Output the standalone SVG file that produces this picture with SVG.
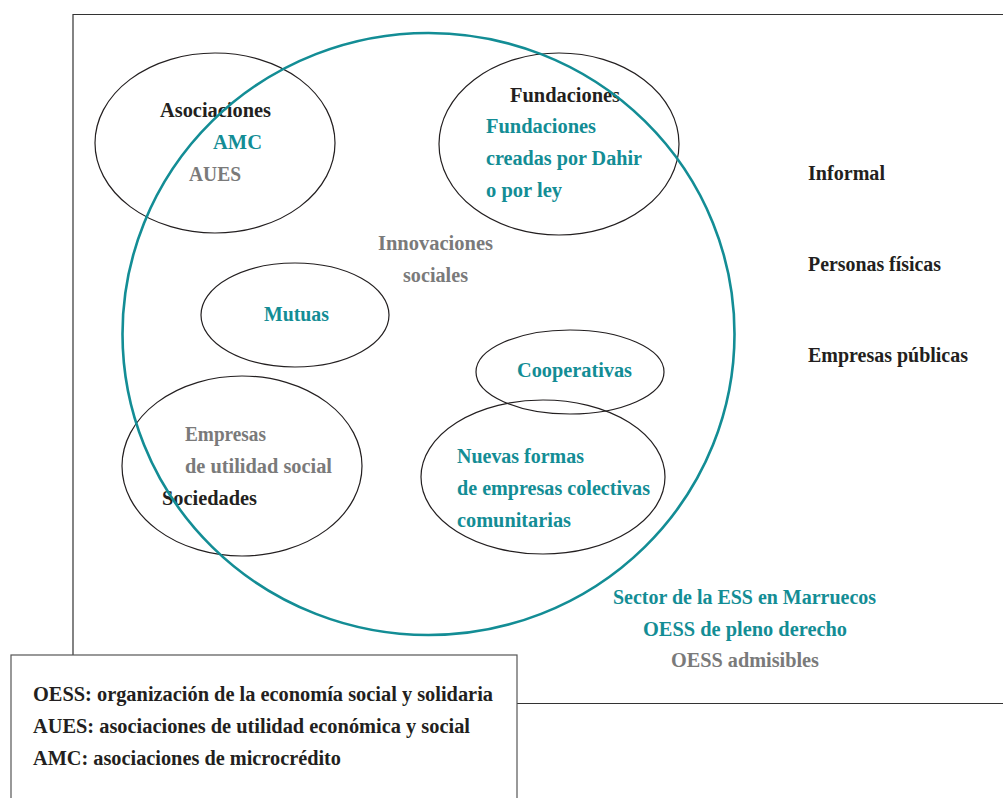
<svg xmlns="http://www.w3.org/2000/svg" width="1003" height="798" viewBox="0 0 1003 798">
<style>
text{font-family:"Liberation Serif","Times New Roman",serif;font-weight:bold;font-size:20px}
.k{fill:#231f20}
.t{fill:#138d95}
.g{fill:#7a7a7a}
.e{fill:none;stroke:#231f20;stroke-width:1.2}
.frame{fill:none;stroke:#333;stroke-width:1.2}
</style>
<rect width="1003" height="798" fill="#fff"/>
<g id="frame">
<path class="frame" d="M73,655 V14.5 H1004 M517,703.5 H1004"/>
</g>
<g id="connectors"></g>
<g id="asociaciones">
<ellipse class="e" cx="215" cy="143" rx="120" ry="90"/>
<text class="k" x="160" y="117" textLength="111" lengthAdjust="spacingAndGlyphs">Asociaciones</text>
<text class="t" x="213" y="149" textLength="49" lengthAdjust="spacingAndGlyphs">AMC</text>
<text class="g" x="189" y="181" textLength="52" lengthAdjust="spacingAndGlyphs">AUES</text>
</g>
<g id="fundaciones">
<ellipse class="e" cx="559" cy="144" rx="120" ry="91"/>
<text class="k" x="510" y="102" textLength="110" lengthAdjust="spacingAndGlyphs">Fundaciones</text>
<text class="t" x="486" y="133" textLength="110" lengthAdjust="spacingAndGlyphs">Fundaciones</text>
<text class="t" x="486" y="165" textLength="156" lengthAdjust="spacingAndGlyphs">creadas por Dahir</text>
<text class="t" x="486" y="197" textLength="76" lengthAdjust="spacingAndGlyphs">o por ley</text>
</g>
<g id="mutuas">
<ellipse class="e" cx="295" cy="315" rx="94" ry="52"/>
<text class="t" x="264" y="321" textLength="65" lengthAdjust="spacingAndGlyphs">Mutuas</text>
</g>
<g id="cooperativas">
<ellipse class="e" cx="570" cy="372" rx="94" ry="42"/>
<text class="t" x="517" y="377" textLength="115" lengthAdjust="spacingAndGlyphs">Cooperativas</text>
</g>
<g id="sociedades">
<ellipse class="e" cx="242" cy="466" rx="120" ry="90"/>
<text class="g" x="185" y="441" textLength="81" lengthAdjust="spacingAndGlyphs">Empresas</text>
<text class="g" x="185" y="473" textLength="147" lengthAdjust="spacingAndGlyphs">de utilidad social</text>
<text class="k" x="162" y="505" textLength="95" lengthAdjust="spacingAndGlyphs">Sociedades</text>
</g>
<g id="nuevas">
<ellipse class="e" cx="543" cy="477" rx="122" ry="77"/>
<text class="t" x="457" y="463" textLength="127" lengthAdjust="spacingAndGlyphs">Nuevas formas</text>
<text class="t" x="457" y="495" textLength="193" lengthAdjust="spacingAndGlyphs">de empresas colectivas</text>
<text class="t" x="457" y="527" textLength="114" lengthAdjust="spacingAndGlyphs">comunitarias</text>
</g>
<g id="sector">
<ellipse cx="428.5" cy="334" rx="306" ry="301" fill="none" stroke="#138d95" stroke-width="2.6"/>
<text class="g" x="378" y="250" textLength="115" lengthAdjust="spacingAndGlyphs">Innovaciones</text>
<text class="g" x="403" y="282" textLength="65" lengthAdjust="spacingAndGlyphs">sociales</text>
<text class="t" x="613" y="604" textLength="263" lengthAdjust="spacingAndGlyphs">Sector de la ESS en Marruecos</text>
<text class="t" x="643" y="636" textLength="204" lengthAdjust="spacingAndGlyphs">OESS de pleno derecho</text>
<text class="g" x="671" y="667" textLength="148" lengthAdjust="spacingAndGlyphs">OESS admisibles</text>
</g>
<g id="outside">
<text class="k" x="808" y="180" textLength="77" lengthAdjust="spacingAndGlyphs">Informal</text>
<text class="k" x="808" y="271" textLength="133" lengthAdjust="spacingAndGlyphs">Personas físicas</text>
<text class="k" x="808" y="362" textLength="160" lengthAdjust="spacingAndGlyphs">Empresas públicas</text>
</g>
<g id="legend">
<rect x="11" y="655" width="506" height="160" fill="#fff" stroke="#555" stroke-width="1.2"/>
<text class="k" x="33" y="701" textLength="460" lengthAdjust="spacingAndGlyphs">OESS: organización de la economía social y solidaria</text>
<text class="k" x="33" y="733" textLength="437" lengthAdjust="spacingAndGlyphs">AUES: asociaciones de utilidad económica y social</text>
<text class="k" x="33" y="765" textLength="308" lengthAdjust="spacingAndGlyphs">AMC: asociaciones de microcrédito</text>
</g>
</svg>
